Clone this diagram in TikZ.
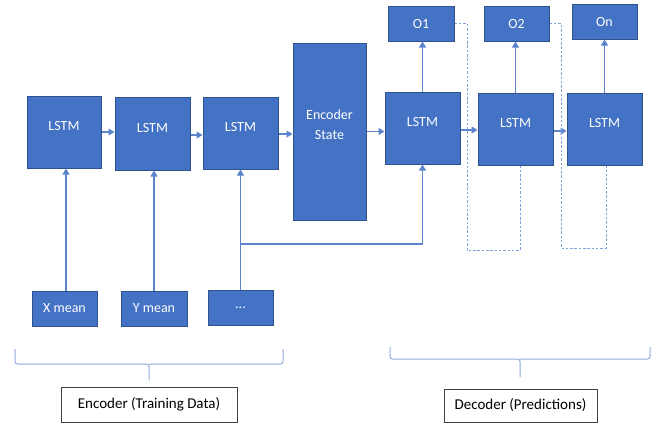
\documentclass[tikz,border=0pt]{standalone}
\usepackage{fontspec}
\setmainfont{Carlito}
\usetikzlibrary{arrows.meta}
\definecolor{boxfill}{HTML}{4472C4}
\definecolor{boxedge}{HTML}{2F528F}
\definecolor{link}{HTML}{5B84CC}
\definecolor{dashlink}{HTML}{7FA2DC}
\definecolor{bracecol}{HTML}{8EAADB}
\tikzset{
  blk/.style={draw=boxedge, line width=1bp, fill=boxfill, text=white,
    font=\fontsize{14bp}{20bp}\selectfont, inner sep=0pt, align=center},
  cell/.style={blk, text depth=12bp},
  lbl/.style={draw=black!75, line width=0.8bp, fill=white, text=black,
    font=\fontsize{15bp}{17bp}\selectfont, inner sep=0pt},
  arr/.style={draw=link, line width=1.1bp, -{Triangle[width=7bp,length=6bp]}},
  wire/.style={draw=link, line width=1.1bp},
  dsh/.style={draw=dashlink, line width=1bp, dash pattern=on 2.5bp off 1.8bp},
  brc/.style={draw=bracecol, line width=1bp, rounded corners=2.5bp},
}
\begin{document}
\begin{tikzpicture}[x=1bp, y=-1bp]
\useasboundingbox (0,0) rectangle (660,426);

% encoder LSTM cells
\node[cell, minimum width=74bp, minimum height=72bp] (l1) at (64,132) {LSTM};
\node[cell, minimum width=75bp, minimum height=73bp] (l2) at (152.5,133.5) {LSTM};
\node[cell, minimum width=75bp, minimum height=72bp] (l3) at (240.5,133) {LSTM};
\node[blk, text depth=13bp, minimum width=73bp, minimum height=177bp] (enc) at (329.5,131.5) {Encoder\\State};

% decoder LSTM cells
\node[cell, minimum width=75bp, minimum height=72bp] (d1) at (422.5,128) {LSTM};
\node[cell, minimum width=75bp, minimum height=72bp] (d2) at (515.5,129) {LSTM};
\node[cell, minimum width=75bp, minimum height=72bp] (d3) at (604.5,129) {LSTM};

% outputs
\node[blk, minimum width=66bp, minimum height=35bp] (o1) at (421,23.5) {O1};
\node[blk, minimum width=65bp, minimum height=35bp] (o2) at (516.5,23.5) {O2};
\node[blk, minimum width=65bp, minimum height=35bp] (on) at (604.5,21.5) {On};

% inputs
\node[blk, minimum width=65bp, minimum height=35bp] (xm) at (64.5,308.5) {X mean};
\node[blk, minimum width=66bp, minimum height=35bp] (ym) at (154,308.5) {Y mean};
\node[blk, minimum width=65bp, minimum height=35bp] (dots) at (240.5,307.5) {...};

% captions
\node[lbl, minimum width=176bp, minimum height=35bp] (cap1) at (149,404.5) {Encoder (Training Data)};
\node[lbl, minimum width=153bp, minimum height=33bp] (cap2) at (520.5,405.5) {Decoder (Predictions)};

% inputs into encoder cells
\draw[arr] ([xshift=1.5bp]xm.north) -- ([xshift=1.5bp]xm.north |- l1.south);
\draw[arr] (ym.north) -- (ym.north |- l2.south);
\draw[arr] (dots.north) -- (dots.north |- l3.south);

% recurrent links
\draw[arr] (l1.east) -- (l1.east -| l2.west);
\draw[arr] ([yshift=-1.5bp]l2.east) -- ([yshift=-1.5bp]l2.east -| l3.west);
\draw[arr] ([yshift=-1bp]l3.east) -- ([yshift=-1bp]l3.east -| enc.west);
\draw[arr] (enc.east) -- (enc.east -| d1.west);
\draw[arr] ([yshift=-2bp]d1.east) -- ([yshift=-2bp]d1.east -| d2.west);
\draw[arr] ([yshift=-2bp]d2.east) -- ([yshift=-2bp]d2.east -| d3.west);

% shared input feeding the first decoder cell
\coordinate (j) at (240.5,244);
\draw[wire] (j) -- (j -| d1.south);
\draw[arr] (j -| d1.south) -- (d1.south);

% decoder outputs
\draw[arr] (d1.north) -- (d1.north |- o1.south);
\draw[arr] (d2.north) -- (d2.north |- o2.south);
\draw[arr] (d3.north) -- (on.south);

% outputs fed back into the next decoder cell
\coordinate (f1) at (467,250);
\coordinate (f2) at (561,248);
\draw[dsh] (o1.east) -| (f1) -| ([xshift=4.5bp]d2.south);
\draw[dsh] (o2.east) -| (f2) -| ([xshift=1.5bp]d3.south);

% braces over the captions
\draw[brc] (15,349) |- (149,364) -- (149,380);
\draw[brc] (283,349) |- (149,364);
\draw[brc] (390,347) |- (520,359) -- (520,377);
\draw[brc] (650,347) |- (520,359);
\end{tikzpicture}
\end{document}
